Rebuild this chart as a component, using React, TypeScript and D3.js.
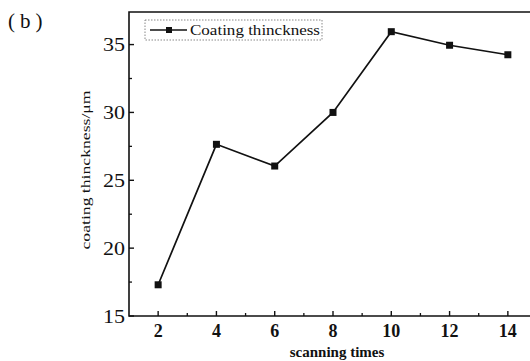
import React from "react";
import * as d3 from "d3";

const scanningTimes = [2, 4, 6, 8, 10, 12, 14];
const coatingThickness = [17.3, 27.65, 26.05, 30.0, 35.95, 34.95, 34.25];
const xTickValues = [2, 4, 6, 8, 10, 12, 14];
const xMinorTicks = [3, 5, 7, 9, 11, 13];
const yTickValues = [15, 20, 25, 30, 35];
const yMinorTicks = [17.5, 22.5, 27.5, 32.5];
const seriesName = "Coating thinckness";
const xTitle = "scanning times";
const yTitle = "coating thinckness/\u03bcm";
const panelLabel = "(b)";

const W = 530;
const H = 361;
const L = 129, T = 12, B = 316;

export default function App() {
  const x = d3.scaleLinear().domain([1, 15]).range([L, 537]);
  const y = d3.scaleLinear().domain([15, 37.4]).range([B, T]);
  const pts = scanningTimes.map((t, i) => [x(t), y(coatingThickness[i])] as [number, number]);
  const line = d3.line()(pts) || "";
  const font = "'Liberation Serif', 'Times New Roman', serif";
  return (
    <svg width={W} height={H} style={{ position: "absolute", left: 0, top: 0, background: "#fff" }} fontFamily={font}>
      <rect x={0} y={0} width={W} height={H} fill="#fff" />
      <text x={8} y={28} fontSize={21} letterSpacing={5} fill="#111">{panelLabel}</text>
      {/* frame */}
      <path d={`M${L},${B} L${L},${T} L${x(15)},${T} L${x(15)},${B} Z`} fill="none" stroke="#111" strokeWidth={1.6} />
      {/* y ticks */}
      {yTickValues.map((v) => (
        <g key={"y" + v}>
          <line x1={L} x2={L + 5} y1={y(v)} y2={y(v)} stroke="#111" strokeWidth={1.4} />
          <text x={125} y={y(v) + 6.5} fontSize={19} textAnchor="end" fill="#111" textLength={22} lengthAdjust="spacingAndGlyphs">{v}</text>
        </g>
      ))}
      {yMinorTicks.map((v) => (
        <line key={"ym" + v} x1={L} x2={L + 3} y1={y(v)} y2={y(v)} stroke="#111" strokeWidth={1.3} />
      ))}
      {/* x ticks */}
      {xTickValues.map((v) => (
        <g key={"x" + v}>
          <line x1={x(v)} x2={x(v)} y1={B} y2={B - 5} stroke="#111" strokeWidth={1.4} />
          <text x={x(v)} y={337} fontSize={18} fontWeight="bold" textAnchor="middle" fill="#111">{v}</text>
        </g>
      ))}
      {xMinorTicks.map((v) => (
        <line key={"xm" + v} x1={x(v)} x2={x(v)} y1={B} y2={B - 3} stroke="#111" strokeWidth={1.3} />
      ))}
      {/* axis titles */}
      <text x={337} y={357} fontSize={15} fontWeight="bold" textAnchor="middle" fill="#111">{xTitle}</text>
      <text transform={`translate(90,170) rotate(-90)`} fontSize={13} textAnchor="middle" fill="#111"
        textLength={159} lengthAdjust="spacingAndGlyphs">{yTitle}</text>
      {/* series */}
      <path d={line} fill="none" stroke="#111" strokeWidth={1.7} />
      {pts.map((p, i) => (
        <rect key={i} x={p[0] - 3.5} y={p[1] - 3.5} width={7} height={7} fill="#111" />
      ))}
      {/* legend */}
      <rect x={145} y={20} width={177} height={20} fill="#fff" stroke="#888" strokeWidth={1} strokeDasharray="1.5,1.5" />
      <line x1={150} x2={187} y1={30} y2={30} stroke="#111" strokeWidth={1.7} />
      <rect x={166} y={27} width={6} height={6} fill="#111" />
      <text x={190} y={35} fontSize={14} fill="#111" textLength={130} lengthAdjust="spacingAndGlyphs">{seriesName}</text>
    </svg>
  );
}
